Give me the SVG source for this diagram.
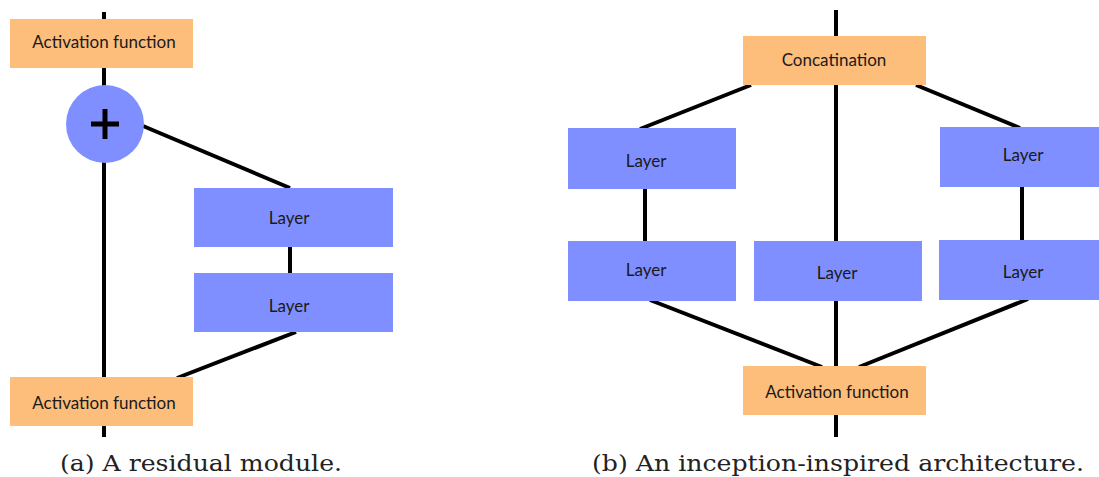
<svg xmlns="http://www.w3.org/2000/svg" width="1099" height="477" viewBox="0 0 1099 477">
  <style>
    .act { fill: #FDBD7B; }
    .layer { fill: #7F8FFF; }
    .lbl { font-family: Lato, "Open Sans", sans-serif; font-size: 17px; fill: #1a1a1a; text-anchor: middle; }
    .cap { font-family: "DejaVu Serif", "Liberation Serif", serif; font-size: 23px; fill: #222; text-anchor: middle; }
    .wire { stroke: #000; stroke-width: 4; fill: none; stroke-linecap: butt; }
  </style>
  <rect width="1099" height="477" fill="#fff"/>

  <!-- connectors -->
  <g id="connectors" class="wire">
    <!-- residual module -->
    <line x1="104" y1="12" x2="104" y2="20"/>
    <line x1="104" y1="68" x2="104" y2="86"/>
    <line x1="104" y1="162" x2="104" y2="378"/>
    <line x1="104" y1="426" x2="104" y2="437"/>
    <line x1="143" y1="126" x2="290" y2="188"/>
    <line x1="290" y1="247" x2="290" y2="274"/>
    <line x1="296" y1="332" x2="177" y2="378"/>
    <!-- inception block -->
    <line x1="836" y1="10" x2="836" y2="37"/>
    <line x1="836" y1="85" x2="836" y2="366"/>
    <line x1="836" y1="415" x2="836" y2="437"/>
    <line x1="751" y1="85" x2="640" y2="129"/>
    <line x1="916" y1="85" x2="1020" y2="128"/>
    <line x1="645" y1="188" x2="645" y2="242"/>
    <line x1="1022" y1="186" x2="1022" y2="241"/>
    <line x1="650" y1="300" x2="822" y2="367"/>
    <line x1="1028" y1="299" x2="859" y2="367"/>
  </g>

  <!-- (a) residual module -->
  <g id="res-act-top">
    <rect class="act" x="10" y="19" width="183" height="49"/>
    <text class="lbl" x="104" y="48">Activation function</text>
  </g>
  <g id="res-add">
    <circle cx="105" cy="124" r="39" fill="#7F8FFF"/>
    <path d="M91 124 H119 M105 109 V139" stroke="#000" stroke-width="5" fill="none"/>
  </g>
  <g id="res-layer-1">
    <rect class="layer" x="194" y="188" width="199" height="59"/>
    <text class="lbl" x="289" y="224">Layer</text>
  </g>
  <g id="res-layer-2">
    <rect class="layer" x="194" y="273" width="199" height="59"/>
    <text class="lbl" x="289" y="312">Layer</text>
  </g>
  <g id="res-act-bottom">
    <rect class="act" x="10" y="377" width="183" height="49"/>
    <text class="lbl" x="104" y="409">Activation function</text>
  </g>
  <text class="cap" x="201" y="471" textLength="282" lengthAdjust="spacingAndGlyphs">(a) A residual module.</text>

  <!-- (b) inception-inspired block -->
  <g id="inc-concat">
    <rect class="act" x="743" y="36" width="183" height="49"/>
    <text class="lbl" x="834" y="66">Concatination</text>
  </g>
  <g id="inc-layer-left-1">
    <rect class="layer" x="568" y="128" width="168" height="61"/>
    <text class="lbl" x="646" y="167">Layer</text>
  </g>
  <g id="inc-layer-right-1">
    <rect class="layer" x="940" y="127" width="159" height="60"/>
    <text class="lbl" x="1023" y="161">Layer</text>
  </g>
  <g id="inc-layer-left-2">
    <rect class="layer" x="568" y="241" width="168" height="60"/>
    <text class="lbl" x="646" y="276">Layer</text>
  </g>
  <g id="inc-layer-mid">
    <rect class="layer" x="754" y="241" width="168" height="60"/>
    <text class="lbl" x="837" y="279">Layer</text>
  </g>
  <g id="inc-layer-right-2">
    <rect class="layer" x="939" y="240" width="160" height="60"/>
    <text class="lbl" x="1023" y="278">Layer</text>
  </g>
  <g id="inc-act">
    <rect class="act" x="743" y="366" width="183" height="49"/>
    <text class="lbl" x="837" y="398">Activation function</text>
  </g>
  <text class="cap" x="838" y="471" textLength="492" lengthAdjust="spacingAndGlyphs">(b) An inception-inspired architecture.</text>
</svg>
